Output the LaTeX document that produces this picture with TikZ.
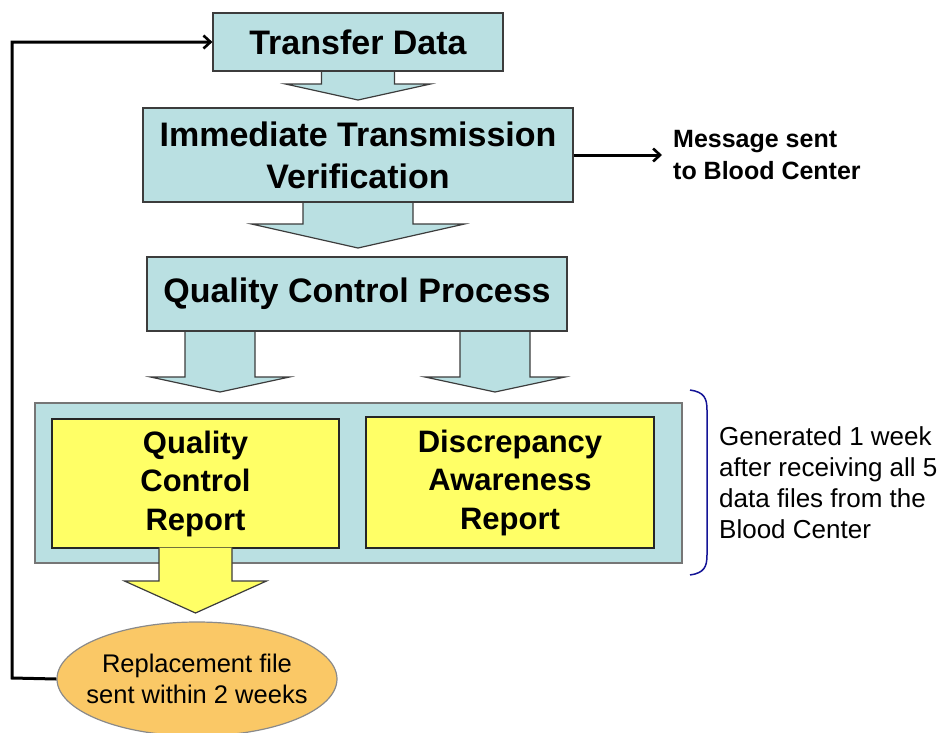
\documentclass[tikz,border=0pt]{standalone}
\usepackage{fontspec}
\setmainfont{Liberation Sans}
\usetikzlibrary{arrows.meta,shapes.geometric,calc}
\definecolor{tealfill}{RGB}{186,224,226}
\definecolor{yelfill}{RGB}{255,255,102}
\definecolor{orfill}{RGB}{250,200,102}
\definecolor{edgecol}{RGB}{60,60,60}
\definecolor{navy}{RGB}{20,20,150}
\newcommand\blockarr[7]{%
  \fill[#1] (#2-#4,#3) -- (#2-#4,#5) -- (#2-#6,#5) -- (#2,#7) -- (#2+#6,#5) -- (#2+#4,#5) -- (#2+#4,#3) -- cycle;
  \draw[boxedge] (#2-#4,#3) -- (#2-#4,#5) -- (#2-#6,#5) -- (#2,#7) -- (#2+#6,#5) -- (#2+#4,#5) -- (#2+#4,#3);
}
\begin{document}
\begin{tikzpicture}[x=1pt,y=-1pt,
  boxedge/.style={draw=edgecol,line width=1.2pt,line join=miter},
  tealbox/.style={boxedge,fill=tealfill,rectangle,inner sep=0pt,align=center,
    font=\fontsize{34}{42}\selectfont\bfseries},
  yelbox/.style={boxedge,draw=black!85,fill=yelfill,rectangle,inner sep=0pt,align=center,
    font=\fontsize{31}{38.5}\selectfont\bfseries},
  conn/.style={line width=3pt,-{Straight Barb[length=7pt,width=13pt,line width=2.6pt]}},
  note/.style={inner sep=0pt,align=left}]
\useasboundingbox (0,0) rectangle (943,732);
% teal block arrows (drawn below the boxes)
\blockarr{tealfill}{358}{70}{36.5}{84}{72.5}{100}
\blockarr{tealfill}{358}{201}{55}{224}{106.5}{248}
\blockarr{tealfill}{220}{330}{35}{377}{69.5}{392}
\blockarr{tealfill}{495}{330}{35}{377}{70}{392}
% boxes
\node[tealbox,minimum width=290pt,minimum height=58pt] (td) at (358,42) {Transfer Data};
\node[tealbox,minimum width=430pt,minimum height=94pt] (itv) at (358,155) {Immediate Transmission\\Verification};
\node[tealbox,minimum width=420pt,minimum height=74pt] (qcp) at (357,294) {Quality Control Process};
\node[boxedge,draw=edgecol!70,fill=tealfill,rectangle,minimum width=647pt,minimum height=160pt] (outer) at (358.5,483) {};
\node[yelbox,minimum width=287pt,minimum height=129pt] (qcr) at (195.5,483.5) {Quality\\Control\\Report};
\node[yelbox,minimum width=288pt,minimum height=131pt] (dar) at (510,482.5) {Discrepancy\\Awareness\\Report};
% yellow block arrow over the boxes
\blockarr{yelfill}{195.5}{547.5}{36.5}{581}{71}{613}
% ellipse
\node[ellipse,boxedge,draw=edgecol!60,fill=orfill,minimum width=280pt,minimum height=114pt,inner sep=0pt,
  align=center,font=\fontsize{25.5}{31}\selectfont] (rep) at (197,679)
  {\makebox[0pt]{Replacement file}\\\makebox[0pt]{sent within 2 weeks}};
% side texts
\node[note,anchor=north west,font=\fontsize{25}{32}\selectfont\bfseries] (msg) at (673,130) {Message sent\\to Blood Center};
\node[note,anchor=north west,font=\fontsize{26}{31}\selectfont] (gen) at (719,426) {Generated 1 week\\after receiving all 5\\data files from the\\Blood Center};
% connectors
\coordinate (msgend) at (662,155);
\draw[conn] (itv.east) -- (msgend);
\coordinate (fbcorner) at (12,678);
\draw[conn] (rep.west) -- (fbcorner) |- (td.west);
% bracket
\draw[navy,line width=1.5pt] (690,390) .. controls (704,392) and (707,398) .. (707,410) -- (707,555) .. controls (707,567) and (704,573) .. (690,575);
\end{tikzpicture}
\end{document}
